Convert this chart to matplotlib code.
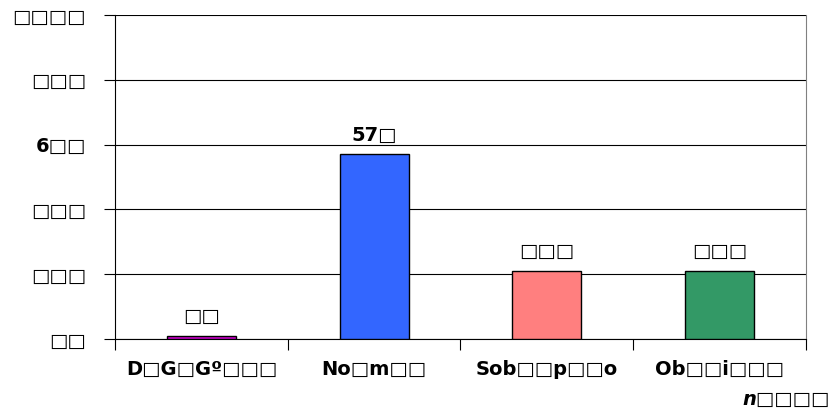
import matplotlib.pyplot as plt
import numpy as np

categories = ["D□G□Gº□□□", "No□m□□", "Sob□□p□□o", "Ob□□i□□□"]
values = [1, 57, 21, 21]
bar_labels = ["□□", "57□", "□□□", "□□□"]
colors = ["#CC00CC", "#3366FF", "#FF7F7F", "#339966"]
yticks = [0, 20, 40, 60, 80, 100]
ytick_labels = ["□□", "□□□", "□□□", "6□□", "□□□", "□□□□"]
note = "n□□□□"

fig = plt.figure(figsize=(8.33, 4.12), dpi=100)
ax = fig.add_axes([115 / 833, (412 - 339) / 412, (806 - 115) / 833, (339 - 15) / 412])

x = np.arange(len(categories))
ax.bar(x, values, width=0.4, color=colors, edgecolor="black", linewidth=1, zorder=3)

for xi, v, lab in zip(x, values, bar_labels):
    ax.text(xi, v + 3, lab, ha="center", va="bottom", fontsize=14, fontweight="bold")

ax.set_xlim(-0.5, len(categories) - 0.5)
ax.set_ylim(0, 100)
ax.set_yticks(yticks)
ax.set_yticklabels(ytick_labels, fontsize=14, fontweight="bold")
ax.yaxis.grid(True, color="black", linewidth=0.8, zorder=0)
ax.tick_params(axis="y", length=8, width=0.8, pad=13, direction="out")

ax.set_xticks(x)
ax.set_xticklabels(categories, fontsize=14, fontweight="bold")
ax.set_xticks(np.arange(len(categories) + 1) - 0.5, minor=True)
ax.tick_params(axis="x", which="major", length=0, pad=15)
ax.tick_params(axis="x", which="minor", length=8, width=0.8, direction="out")

ax.spines["top"].set_visible(False)
ax.spines["right"].set_color("#808080")
ax.spines["left"].set_linewidth(0.8)
ax.spines["bottom"].set_linewidth(0.8)

fig.text(830 / 833, 1 - 399 / 412, note, ha="right", va="center",
         fontsize=14, fontweight="bold", style="italic")

fig.savefig("out.png", dpi=100)
